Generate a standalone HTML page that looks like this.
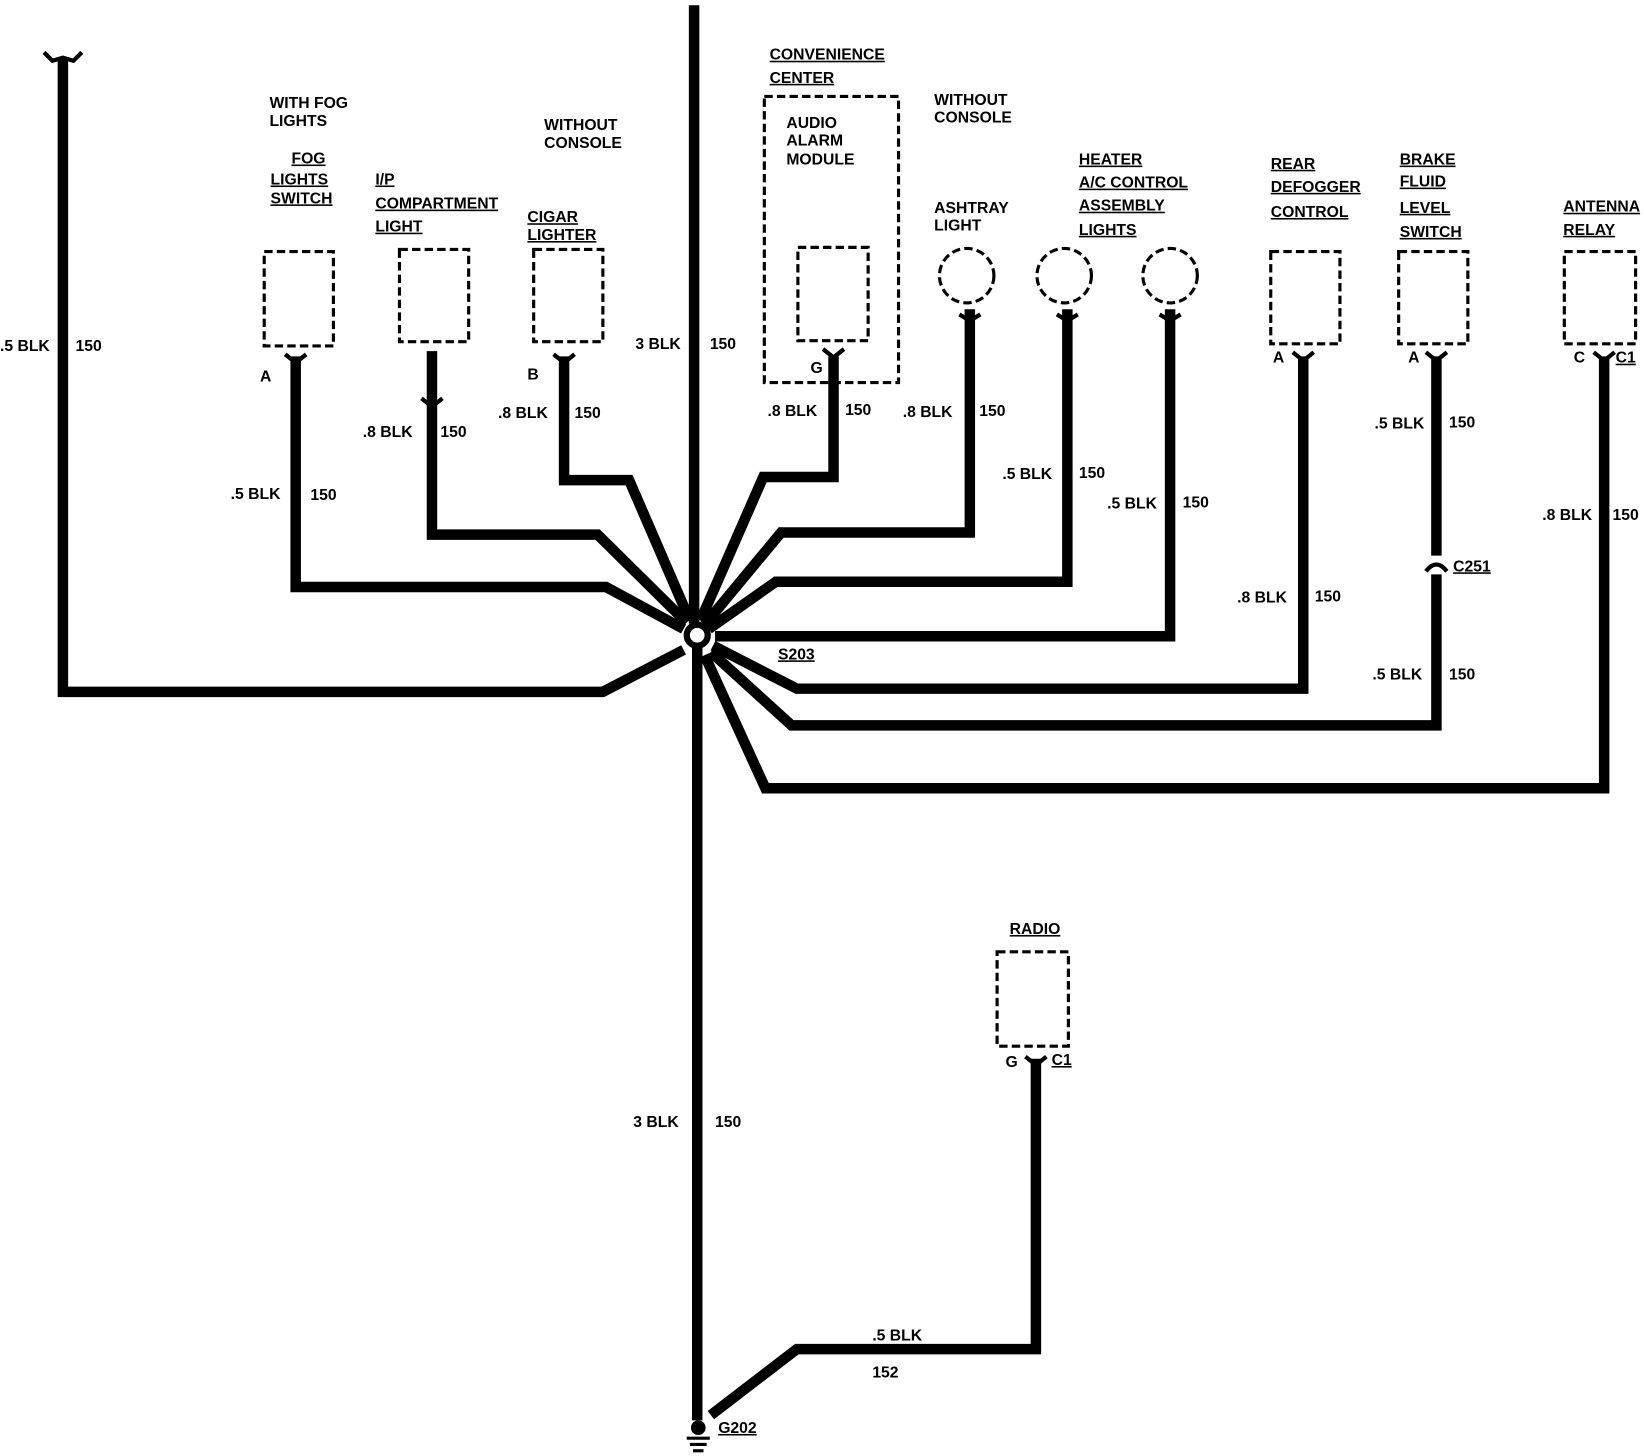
<!DOCTYPE html>
<html><head><meta charset="utf-8"><style>
html,body{margin:0;padding:0;background:#fff}
svg{display:block}
text{font-family:"Liberation Sans",sans-serif;font-size:15px;font-weight:bold;fill:#000}
.u{text-decoration:underline}
</style></head><body>
<svg width="1644" height="1456" viewBox="0 0 1568 1389" preserveAspectRatio="none" xmlns="http://www.w3.org/2000/svg">
<g fill="none" stroke="#000" stroke-width="10" stroke-linejoin="miter">
<polyline points="662,5 662,595"/>
<polyline points="665,618 665,1355"/>
<polyline points="60,55 60,660 575,660 652,620"/>
<polyline points="282,340 282,560 578,560 652,600"/>
<polyline points="412,335 412,510 570,510 655,594"/>
<polyline points="538,340 538,458 600,458 658,592"/>
<polyline points="795,340 795,455 728,455 668,592"/>
<polyline points="925,295 925,508 745,508 672,596"/>
<polyline points="1018,295 1018,555 740,555 676,600"/>
<polyline points="1116,295 1116,607 682,607"/>
<polyline points="1243,340 1243,657 760,657 680,616"/>
<polyline points="1370,340 1370,530"/>
<polyline points="1370,548 1370,692 755,692 678,622"/>
<polyline points="1530,340 1530,752 730,752 672,625"/>
<polyline points="988,1010 988,1287 760,1287 678,1350"/>
</g>
<path d="M42,50 L50,58 L60,55 L70,58 L78,50" fill="none" stroke="#000" stroke-width="4"/>
<circle cx="665" cy="606" r="10" fill="#fff" stroke="#000" stroke-width="6"/>
<path d="M1360,545 Q1370,532 1380,545" fill="none" stroke="#000" stroke-width="4"/>
<g fill="none" stroke="#000" stroke-width="3" stroke-dasharray="8,4">
<rect x="252" y="240" width="66" height="90"/>
<rect x="381" y="238" width="66" height="88"/>
<rect x="509" y="238" width="66" height="88"/>
<rect x="729" y="92" width="128" height="273"/>
<rect x="761" y="236" width="67" height="89"/>
<circle cx="922" cy="263" r="26"/>
<circle cx="1015" cy="263" r="26"/>
<circle cx="1116" cy="263" r="26"/>
<rect x="1212" y="240" width="66" height="88"/>
<rect x="1334" y="240" width="66" height="88"/>
<rect x="1492" y="240" width="68" height="88"/>
<rect x="951" y="908" width="68" height="90"/>
</g>
<g fill="none" stroke="#000" stroke-width="4">
<path d="M272,338 L282,346 L292,338"/><path d="M402,380 L412,388 L422,380"/><path d="M528,338 L538,346 L548,338"/>
<path d="M785,333 L795,341 L805,333"/><path d="M915,300 L925,306 L935,300"/><path d="M1008,300 L1018,306 L1028,300"/>
<path d="M1106,300 L1116,306 L1126,300"/><path d="M1233,336 L1243,344 L1253,336"/><path d="M1360,336 L1370,344 L1380,336"/>
<path d="M1520,336 L1530,344 L1540,336"/><path d="M978,1008 L988,1016 L998,1008"/>
</g>
<g stroke="#000" stroke-width="3"><line x1="655" y1="1372" x2="677" y2="1372"/><line x1="658" y1="1378" x2="674" y2="1378"/><line x1="661" y1="1384" x2="671" y2="1384"/></g>
<circle cx="666" cy="1362" r="7" fill="#000"/>
<text x="257" y="103">WITH FOG</text><text x="257" y="120">LIGHTS</text>
<text x="278" y="156" class="u">FOG</text><text x="258" y="176" class="u">LIGHTS</text><text x="258" y="194" class="u">SWITCH</text>
<text x="358" y="176" class="u">I/P</text><text x="358" y="199" class="u">COMPARTMENT</text><text x="358" y="221" class="u">LIGHT</text>
<text x="519" y="124">WITHOUT</text><text x="519" y="141">CONSOLE</text>
<text x="503" y="212" class="u">CIGAR</text><text x="503" y="229" class="u">LIGHTER</text>
<text x="734" y="57" class="u">CONVENIENCE</text><text x="734" y="79" class="u">CENTER</text>
<text x="750" y="122">AUDIO</text><text x="750" y="139">ALARM</text><text x="750" y="157">MODULE</text>
<text x="891" y="100">WITHOUT</text><text x="891" y="117">CONSOLE</text>
<text x="891" y="203">ASHTRAY</text><text x="891" y="220">LIGHT</text>
<text x="1029" y="157" class="u">HEATER</text><text x="1029" y="179" class="u">A/C CONTROL</text><text x="1029" y="201" class="u">ASSEMBLY</text><text x="1029" y="224" class="u">LIGHTS</text>
<text x="1212" y="161" class="u">REAR</text><text x="1212" y="183" class="u">DEFOGGER</text><text x="1212" y="207" class="u">CONTROL</text>
<text x="1335" y="157" class="u">BRAKE</text><text x="1335" y="178" class="u">FLUID</text><text x="1335" y="203" class="u">LEVEL</text><text x="1335" y="226" class="u">SWITCH</text>
<text x="1491" y="202" class="u">ANTENNA</text><text x="1491" y="224" class="u">RELAY</text>
<text x="963" y="891" class="u">RADIO</text>
<text x="0" y="335">.5 BLK</text><text x="72" y="335">150</text>
<text x="248" y="364">A</text><text x="503" y="362">B</text><text x="773" y="356">G</text>
<text x="1214" y="346">A</text><text x="1343" y="346">A</text><text x="1501" y="346">C</text><text x="1541" y="346" class="u">C1</text>
<text x="959" y="1018">G</text><text x="1003" y="1016" class="u">C1</text>
<text x="220" y="476">.5 BLK</text><text x="296" y="477">150</text>
<text x="346" y="417">.8 BLK</text><text x="420" y="417">150</text>
<text x="475" y="399">.8 BLK</text><text x="548" y="399">150</text>
<text x="606" y="333">3 BLK</text><text x="677" y="333">150</text>
<text x="732" y="397">.8 BLK</text><text x="806" y="396">150</text>
<text x="861" y="398">.8 BLK</text><text x="934" y="397">150</text>
<text x="956" y="457">.5 BLK</text><text x="1029" y="456">150</text>
<text x="1056" y="485">.5 BLK</text><text x="1128" y="484">150</text>
<text x="1180" y="575">.8 BLK</text><text x="1254" y="574">150</text>
<text x="1311" y="409">.5 BLK</text><text x="1382" y="408">150</text>
<text x="1386" y="545" class="u">C251</text>
<text x="1309" y="648">.5 BLK</text><text x="1382" y="648">150</text>
<text x="1471" y="496">.8 BLK</text><text x="1538" y="496">150</text>
<text x="742" y="629" class="u">S203</text>
<text x="604" y="1075">3 BLK</text><text x="682" y="1075">150</text>
<text x="832" y="1279">.5 BLK</text><text x="832" y="1314">152</text>
<text x="685" y="1367" class="u">G202</text>
</svg>
</body></html>
